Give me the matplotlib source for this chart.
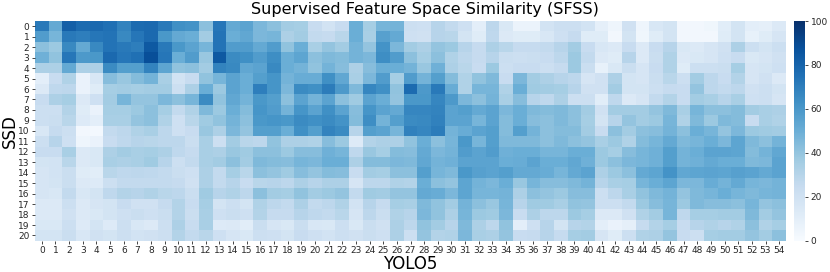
import matplotlib
matplotlib.use("Agg")
import matplotlib.pyplot as plt
import numpy as np

r00 = [72,52,82,77,78,75,68,77,78,72,63,62,42,73,52,55,46,42,36,35,24,19,24,50,35,47,48,22,21,30,26,21,10,28,15,6,6,19,22,22,19,9,5,20,5,16,18,3,3,4,11,18,10,9,14]
r01 = [58,47,72,70,73,74,66,73,78,60,52,50,36,74,50,53,46,47,33,36,26,25,29,50,34,56,52,21,20,30,29,18,12,27,14,12,12,16,21,25,12,12,3,18,4,12,18,3,3,3,12,18,8,12,17]
r02 = [42,38,66,52,66,74,72,70,84,72,60,55,47,74,58,58,52,58,41,50,34,40,36,48,40,62,46,36,33,40,38,30,25,33,29,25,25,26,30,36,24,16,14,24,14,24,30,15,14,17,20,33,22,18,22]
r03 = [49,41,73,59,60,78,73,75,88,73,50,58,39,84,65,63,58,64,50,54,42,45,44,48,46,64,58,42,35,42,32,28,25,30,23,22,23,24,28,38,26,14,12,30,14,23,32,14,15,17,21,24,15,17,20]
r04 = [33,33,52,33,33,65,57,57,68,54,41,42,36,68,66,53,55,66,50,48,41,48,43,33,43,50,50,48,39,49,33,29,24,38,22,24,24,22,25,38,23,8,15,23,17,24,32,12,22,22,23,35,17,18,21]
r05 = [10,24,32,7,16,43,39,44,48,34,19,24,41,47,55,50,57,61,48,51,51,63,53,34,46,58,35,58,48,57,44,32,41,45,24,46,36,33,30,28,17,20,33,18,17,23,29,22,36,28,24,31,17,20,14]
r06 = [14,27,28,7,12,35,36,35,36,36,22,33,50,38,55,50,70,61,46,65,63,71,59,45,67,63,41,77,59,72,51,32,47,47,32,50,37,36,35,30,20,20,36,18,18,22,25,24,40,28,26,28,20,22,18]
r07 = [24,33,35,14,21,36,47,40,40,46,42,47,65,41,53,48,60,57,42,55,48,55,42,37,55,50,40,60,60,67,59,46,42,48,34,43,30,27,33,22,22,11,27,14,17,26,31,24,36,34,30,34,21,22,17]
r08 = [22,22,31,12,7,35,35,38,42,35,26,32,45,38,50,44,61,58,48,61,55,63,55,43,61,55,52,67,67,68,55,57,52,55,46,50,45,44,45,42,36,20,36,36,36,40,45,34,47,42,42,44,36,34,33]
r09 = [22,23,29,13,10,34,34,40,42,32,21,29,37,41,48,42,60,61,60,65,63,65,62,44,64,48,57,65,66,69,55,55,47,55,44,50,43,42,45,42,35,18,30,40,36,38,47,32,45,38,45,44,24,34,32]
r10 = [16,25,22,3,2,26,28,32,34,28,21,24,39,33,46,40,57,57,50,63,57,68,65,30,57,55,47,69,67,71,48,51,55,57,44,57,48,42,44,44,36,24,42,36,42,43,48,42,50,47,40,46,38,37,36]
r11 = [22,30,21,5,7,24,27,30,29,28,28,23,34,22,36,29,28,41,33,33,32,43,38,13,31,33,33,41,50,42,47,60,47,57,45,45,45,42,45,42,40,34,38,32,44,47,52,45,47,50,46,54,45,42,48]
r12 = [24,24,34,14,15,33,36,34,35,33,27,25,34,33,39,37,42,42,38,43,43,49,47,27,39,35,44,43,52,46,48,58,55,58,49,50,50,47,47,50,50,38,35,43,47,49,57,48,50,55,55,54,44,48,53]
r13 = [18,19,29,14,15,34,33,34,37,30,22,26,34,36,42,36,45,44,43,47,46,50,50,33,44,44,46,45,53,48,49,55,55,55,50,51,55,50,50,53,49,38,42,46,47,49,57,48,49,52,50,50,45,46,55]
r14 = [17,19,23,12,11,29,27,28,27,26,23,21,33,26,35,29,42,40,37,43,40,44,43,24,36,35,42,42,57,47,45,60,56,55,57,52,52,51,47,52,55,33,38,42,52,54,62,53,54,55,54,56,55,52,55]
r15 = [17,18,23,14,13,22,26,26,26,26,25,20,33,26,30,24,29,30,28,33,30,33,33,17,28,28,32,31,50,42,40,54,48,46,50,39,47,43,43,45,48,30,34,35,47,50,54,46,46,51,48,52,47,46,48]
r16 = [17,16,26,16,18,27,31,30,32,29,28,23,37,30,32,28,42,36,35,41,36,38,40,26,37,36,40,40,52,51,46,54,47,47,48,33,42,40,38,43,43,22,28,34,41,45,48,40,45,47,50,47,45,47,48]
r17 = [14,14,22,14,17,18,24,20,20,25,31,24,35,18,22,18,32,28,26,33,26,28,32,19,30,25,35,34,45,41,36,48,42,39,47,30,37,37,34,41,40,22,22,26,38,43,47,38,45,43,43,42,47,40,42]
r18 = [14,14,20,14,15,18,21,23,21,23,31,23,34,21,23,21,31,25,25,30,27,26,29,17,28,23,32,30,46,41,33,47,38,37,46,24,33,28,28,38,35,14,14,20,32,36,47,27,35,35,36,36,45,36,40]
r19 = [15,15,22,13,18,13,22,16,14,22,33,24,34,13,14,11,23,17,15,23,16,15,22,15,23,20,33,28,41,36,30,45,33,28,41,10,21,30,18,30,31,10,7,9,25,31,35,24,30,32,30,32,42,32,35]
r20 = [18,18,23,16,20,18,22,19,20,22,31,26,29,21,17,15,22,21,18,24,21,19,22,20,23,21,33,22,40,31,32,46,34,33,40,24,25,30,25,35,36,17,12,22,32,33,40,24,22,35,36,36,40,36,42]
rows = [r00,r01,r02,r03,r04,r05,r06,r07,r08,r09,r10,r11,r12,r13,r14,r15,r16,r17,r18,r19,r20]
x_labels = [str(i) for i in range(55)]
y_labels = [str(i) for i in range(21)]
cbar_ticks = [0, 20, 40, 60, 80, 100]

plt.rcParams['font.family'] = 'DejaVu Sans'
W, H = 830, 272
fig = plt.figure(figsize=(W/100, H/100), dpi=100)
ax = fig.add_axes([35/W, 1-240.7/H, (786-35)/W, (240.7-21)/H])
cax = fig.add_axes([794/W, 1-240.7/H, 11/W, (240.7-21)/H])
data = np.array(rows, dtype=float)
mesh = ax.pcolormesh(data, cmap='Blues', vmin=0, vmax=100)
ax.invert_yaxis()
ax.set_xticks(np.arange(55)+0.5, x_labels)
ax.set_yticks(np.arange(21)+0.5, y_labels, rotation=0)
ax.tick_params(axis='both', labelsize=6.5, length=2.5, width=0.6, pad=1.5, colors='#262626')
for s in ax.spines.values():
    s.set_visible(False)
ax.set_title('Supervised Feature Space Similarity (SFSS)', fontsize=11.5, pad=5, x=0.519)
ax.set_xlabel('YOLO5', fontsize=12, labelpad=-0.5)
ax.set_ylabel('SSD', fontsize=12, labelpad=-0.5)
cb = fig.colorbar(mesh, cax=cax)
cb.set_ticks(cbar_ticks)
cb.ax.tick_params(labelsize=6.5, length=2.5, width=0.6, pad=1.5, colors='#262626')
cb.outline.set_visible(False)
fig.savefig('out.png', dpi=100)
